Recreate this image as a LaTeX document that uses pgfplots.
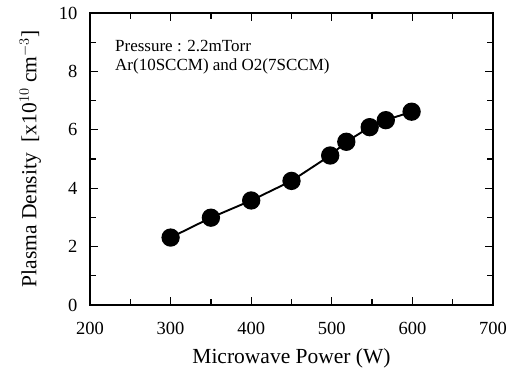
\documentclass[border=0pt]{standalone}
\usepackage{pgfplots}
\pgfplotsset{compat=1.18}
\usepackage{fontspec}
\setmainfont{Liberation Serif}
\begin{document}
\begin{tikzpicture}
\useasboundingbox (-90pt,-68pt) rectangle (431pt,305pt);
\begin{axis}[
  scale only axis,
  width=403pt, height=292pt,
  xmin=200, xmax=700, ymin=0, ymax=10,
  xtick={200,300,...,700}, ytick={0,2,...,10},
  minor xtick={250,350,...,650}, minor ytick={1,3,...,9},
  tick align=inside,
  major tick length=8pt, minor tick length=6pt,
  every tick/.style={line width=1.3pt, black},
  axis line style={line width=1.5pt},
  /pgf/number format/assume math mode=true,
  tick label style={font=\fontsize{18.5}{18.5}\selectfont},
  xticklabel style={yshift=-14pt},
  yticklabel style={xshift=-9pt},
  xlabel={Microwave Power (W)},
  ylabel={Plasma Density\ \ [x10$^{10}$ cm$^{-3}$]},
  xlabel style={font=\fontsize{21.5}{21.5}\selectfont, yshift=-7pt},
  ylabel style={font=\fontsize{21.5}{21.5}\selectfont, yshift=11pt},
]
\addplot[black, line width=1.9pt, mark=*, mark size=8.2pt, mark options={fill=black}] coordinates {
  (300,2.31) (350,2.99) (400,3.58) (450,4.25) (498,5.12) (518,5.59) (547,6.09) (567,6.33) (599,6.62)
};
\node[anchor=north west, align=left, font=\fontsize{17}{19}\selectfont, inner sep=0pt] at (rel axis cs:0.062,0.907)
  {Pressure : 2.2mTorr\\Ar(10SCCM) and O2(7SCCM)};
\end{axis}
\end{tikzpicture}
\end{document}
